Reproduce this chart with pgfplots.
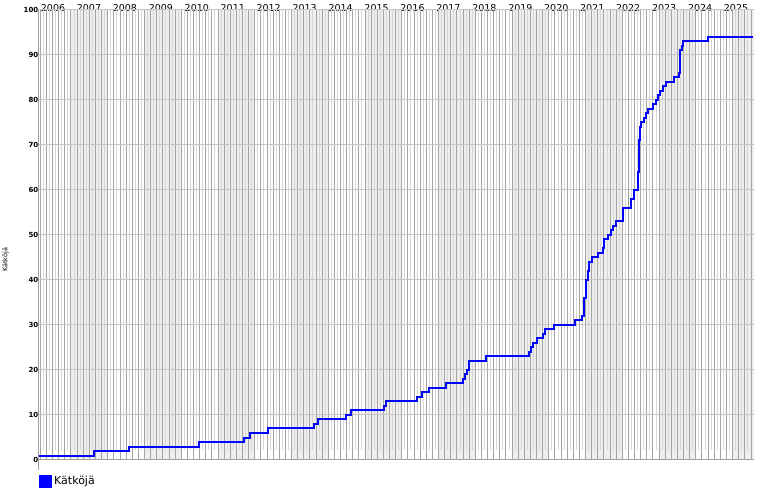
\documentclass[border=0pt]{standalone}
\usepackage{pgfplots}
\pgfplotsset{compat=1.18}
\usepackage{fontspec}
\setmainfont{DejaVu Sans}
\definecolor{stripe}{HTML}{EEEEEE}
\definecolor{vdark}{HTML}{A4A4A4}
\definecolor{vlight}{HTML}{D6D6D6}
\definecolor{hgrid}{HTML}{C4C4C4}
\definecolor{axgrey}{HTML}{A0A0A0}
\definecolor{lineblue}{HTML}{0000FF}
\begin{document}
\begin{tikzpicture}[x=1pt,y=1pt]
\path[use as bounding box] (-39,-40) rectangle (731,460);
\begin{axis}[
  at={(0,0)}, anchor=south west, scale only axis,
  width=715pt, height=450pt,
  xmin=0.11, xmax=20, ymin=0, ymax=100,
  axis line style={draw=none},
  tick style={draw=none},
  /pgf/number format/assume math mode=true,
  xtick={0.5,1.5,...,19.5},
  xticklabels={2006,2007,2008,2009,2010,2011,2012,2013,2014,2015,2016,2017,2018,2019,2020,2021,2022,2023,2024,2025},
  xticklabel pos=upper,
  xticklabel style={font=\fontsize{9.5}{10}\selectfont, inner sep=0pt, anchor=south, yshift=-2pt},
  ytick={0,10,...,100},
  yticklabel style={font=\fontsize{7}{7}\selectfont\bfseries, inner sep=0.5pt, anchor=east},
  ylabel={Kätköjä},
  ylabel style={font=\fontsize{6.5}{7}\selectfont, at={(axis description cs:-0.0469,0.445)}, anchor=center},
  legend style={at={(axis description cs:0,0)}, anchor=north west, draw=none, fill=none,
    font=\fontsize{11}{12}\selectfont, inner sep=0pt, xshift=0pt, yshift=-14pt},
  legend cell align=left,
]
% alternating stripes (period 1.0225 units)
\pgfplotsinvokeforeach{0,...,9}{
  \fill[stripe] (axis cs:{1+2*#1*1.0225},0) rectangle (axis cs:{1+(2*#1+1)*1.0225},100);
}
% light lines
\pgfplotsinvokeforeach{-5,...,110}{
  \draw[vlight, line width=1pt] (axis cs:{1+(2*#1+1)*0.0852083},2.2) -- (axis cs:{1+(2*#1+1)*0.0852083},100);
}
% dark lines
\pgfplotsinvokeforeach{-5,...,111}{
  \draw[vdark, line width=1pt] (axis cs:{1+#1*0.1704167},0) -- (axis cs:{1+#1*0.1704167},100);
}
% horizontal grid
\pgfplotsinvokeforeach{10,20,...,100}{
  \draw[hgrid, line width=1pt] (axis cs:0,#1) -- (axis cs:20,#1);
}
\addplot[const plot, draw=lineblue, line width=2pt,
  legend image code/.code={\fill[lineblue] (0pt,-5.5pt) rectangle (11pt,5.5pt);}]
table {
x y
0.11 1
1.64 2
2.61 3
4.56 4
5.81 5
5.98 6
6.48 7
7.76 8
7.87 9
8.65 10
8.79 11
9.71 12
9.76 13
10.62 14
10.76 15
10.96 16
11.43 17
11.90 18
11.96 19
12.02 20
12.08 22
12.54 23
13.75 24
13.80 25
13.85 26
13.96 27
14.12 28
14.18 29
14.44 30
15.02 31
15.21 32
15.26 34
15.28 36
15.33 40
15.37 42
15.42 44
15.48 45
15.65 46
15.79 47
15.84 49
15.93 50
16.02 51
16.08 52
16.16 53
16.35 56
16.58 58
16.67 60
16.76 64
16.79 67
16.81 71
16.84 74
16.87 75
16.93 76
16.99 77
17.04 78
17.18 79
17.27 80
17.32 81
17.38 82
17.46 83
17.55 84
17.78 85
17.91 86
17.94 89
17.95 91
17.99 92
18.03 93
18.71 94
19.97 94
};
\addlegendentry{Kätköjä}
\end{axis}
\draw[axgrey, line width=1pt] (0,-10) -- (0,450);
\draw[axgrey, line width=1pt] (0,0) -- (715,0);
\end{tikzpicture}
\end{document}
